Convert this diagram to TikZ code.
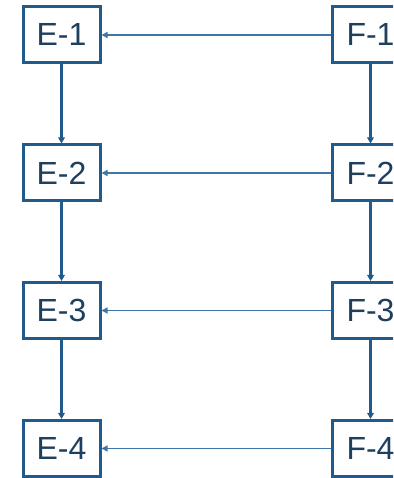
\documentclass[tikz,border=0pt]{standalone}
\usepackage{fontspec}
\setmainfont{Liberation Sans}
\usetikzlibrary{arrows.meta}
\definecolor{boxblue}{HTML}{205B8C}
\definecolor{textblue}{HTML}{1E3F5E}
\definecolor{linkblue}{HTML}{3F76A8}
\begin{document}
\begin{tikzpicture}[x=1pt,y=1pt,
  blockbox/.style={draw=boxblue, line width=3pt, fill=white,
    minimum width=77pt, minimum height=56pt, inner sep=0pt,
    font=\fontsize{32}{36}\selectfont, text=textblue},
  downlink/.style={draw=boxblue, line width=2.3pt,
    -{Triangle[length=6pt,width=6.5pt]}},
  sidelink/.style={draw=linkblue, line width=1.4pt,
    -{Triangle[length=6pt,width=6pt]}}]
\useasboundingbox (0,0) rectangle (393,478);
\clip (0,0) rectangle (393,478);
\fill[white] (0,0) rectangle (393,478);
% left column
\node[blockbox] (e1) at (61.5,443) {E-1};
\node[blockbox] (e2) at (61.5,305) {E-2};
\node[blockbox] (e3) at (61.5,167.5) {E-3};
\node[blockbox] (e4) at (61.5,29.5) {E-4};
% right column
\node[blockbox] (f1) at (370.5,443) {F-1};
\node[blockbox] (f2) at (370.5,305) {F-2};
\node[blockbox] (f3) at (370.5,167.5) {F-3};
\node[blockbox] (f4) at (370.5,29.5) {F-4};
% vertical chains
\draw[downlink] (e1) -- (e2);
\draw[downlink] (e2) -- (e3);
\draw[downlink] (e3) -- (e4);
\draw[downlink] (f1) -- (f2);
\draw[downlink] (f2) -- (f3);
\draw[downlink] (f3) -- (f4);
% horizontal links
\draw[sidelink] (f1) -- (e1);
\draw[sidelink] (f2) -- (e2);
\draw[sidelink] (f3) -- (e3);
\draw[sidelink] (f4) -- (e4);
\end{tikzpicture}
\end{document}
